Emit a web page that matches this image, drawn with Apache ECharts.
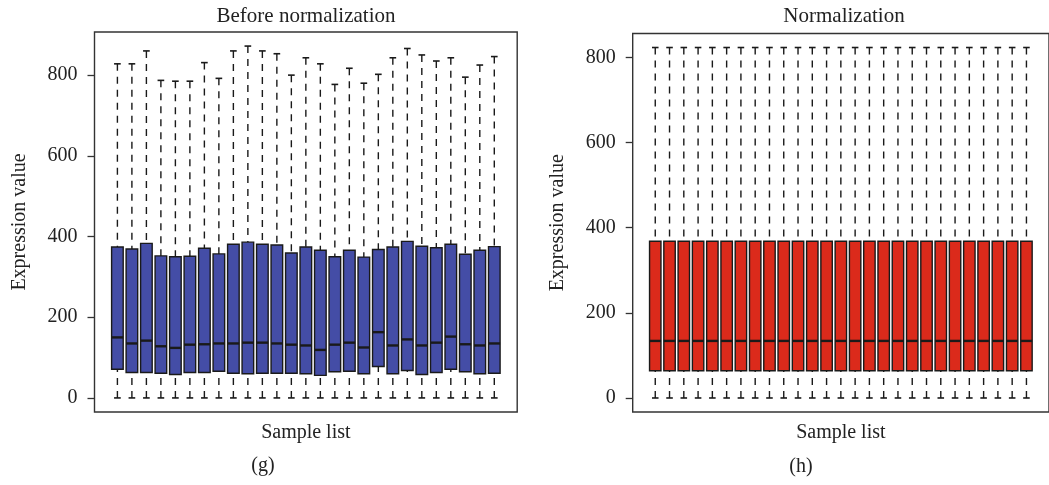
<!DOCTYPE html>
<html>
<head>
<meta charset="utf-8">
<script src="https://cdn.jsdelivr.net/npm/echarts@6/dist/echarts.min.js"></script>
<style>
html,body{margin:0;padding:0;background:#fff;}
#chart{width:1049px;height:485px;}
</style>
</head>
<body>
<div id="chart"></div>
<script>
// ---- data ----
const sampleIds = [1,2,3,4,5,6,7,8,9,10,11,12,13,14,15,16,17,18,19,20,21,22,23,24,25,26,27];
const yTicks = [0, 200, 400, 600, 800];

const beforeMax    = [828,828,860,787,785,785,831,792,860,872,860,853,800,843,828,777,817,780,802,843,866,850,835,843,795,825,846];
const beforeQ3     = [374,369,383,352,350,351,371,357,381,386,381,379,359,374,366,350,366,349,368,374,388,376,372,381,356,366,375];
const beforeMedian = [150,135,142,128,124,132,133,135,135,137,137,135,132,130,119,132,137,125,163,130,145,130,137,152,133,130,135];
const beforeQ1     = [71,63,63,61,58,63,63,66,61,60,61,61,61,60,56,65,66,60,78,60,68,58,63,71,65,60,61];
const beforeMin    = [0,0,0,0,0,0,0,0,0,0,0,0,0,0,0,0,0,0,0,0,0,0,0,0,0,0,0];

const afterMax    = [823,823,823,823,823,823,823,823,823,823,823,823,823,823,823,823,823,823,823,823,823,823,823,823,823,823,823];
const afterQ3     = [368,368,368,368,368,368,368,368,368,368,368,368,368,368,368,368,368,368,368,368,368,368,368,368,368,368,368];
const afterMedian = [134,134,134,134,134,134,134,134,134,134,134,134,134,134,134,134,134,134,134,134,134,134,134,134,134,134,134];
const afterQ1     = [64,64,64,64,64,64,64,64,64,64,64,64,64,64,64,64,64,64,64,64,64,64,64,64,64,64,64];
const afterMin    = [0,0,0,0,0,0,0,0,0,0,0,0,0,0,0,0,0,0,0,0,0,0,0,0,0,0,0];

const titles = ['Before normalization', 'Normalization'];
const panelTags = ['(g)', '(h)'];
const xName = 'Sample list';
const yName = 'Expression value';

// ---- build ----
const FONT = 'Liberation Serif';
const INK = '#1a1a1a';

function rows(mn, q1, md, q3, mx) {
  return sampleIds.map((id, i) => [id, mn[i], q1[i], md[i], q3[i], mx[i]]);
}

function makeRender(fill) {
  return function (params, api) {
    const x = api.value(0);
    const lo = api.coord([x, api.value(1)]);
    const a = api.coord([x, api.value(2)]);
    const m = api.coord([x, api.value(3)]);
    const b = api.coord([x, api.value(4)]);
    const hi = api.coord([x, api.value(5)]);
    const half = api.size([0.8, 0])[0] / 2;
    const cap = api.size([0.46, 0])[0] / 2;
    const dash = { stroke: INK, lineWidth: 1.4, lineDash: [7, 6] };
    const solid = { stroke: INK, lineWidth: 1.6 };
    return {
      type: 'group',
      children: [
        { type: 'line', shape: { x1: hi[0], y1: hi[1], x2: b[0], y2: b[1] }, style: dash },
        { type: 'line', shape: { x1: lo[0], y1: lo[1], x2: a[0], y2: a[1] }, style: dash },
        { type: 'line', shape: { x1: hi[0] - cap, y1: hi[1], x2: hi[0] + cap, y2: hi[1] }, style: solid },
        { type: 'line', shape: { x1: lo[0] - cap, y1: lo[1], x2: lo[0] + cap, y2: lo[1] }, style: solid },
        { type: 'rect', shape: { x: b[0] - half, y: b[1], width: half * 2, height: a[1] - b[1] },
          style: { fill: fill, stroke: INK, lineWidth: 1.4 } },
        { type: 'line', shape: { x1: m[0] - half, y1: m[1], x2: m[0] + half, y2: m[1] },
          style: { stroke: INK, lineWidth: 2.4 } }
      ]
    };
  };
}

function yRange(maxArr) {
  const hi = Math.max.apply(null, maxArr);
  const pad = 0.04 * hi;
  return [-pad, hi + pad];
}
const rL = yRange(beforeMax);
const rR = yRange(afterMax);
const xMin = 0.5 - 0.04 * sampleIds.length;
const xMax = sampleIds.length + 0.5 + 0.04 * sampleIds.length;

const txt = { fontFamily: FONT, fontSize: 20, color: '#222', fontWeight: 'normal' };
const titleTxt = { fontFamily: FONT, fontSize: 21, color: '#222', fontWeight: 'normal' };

function xAxisFor(idx) {
  return {
    gridIndex: idx, type: 'value', min: xMin, max: xMax,
    axisLine: { show: false, onZero: false }, axisTick: { show: false },
    axisLabel: { show: false }, splitLine: { show: false },
    name: xName, nameLocation: 'middle', nameGap: 11, nameTextStyle: txt
  };
}
function yAxisFor(idx, r) {
  return {
    gridIndex: idx, type: 'value', min: r[0], max: r[1],
    axisLine: { show: false, onZero: false },
    axisTick: { show: true, length: 7, inside: false, customValues: yTicks,
                lineStyle: { color: '#333', width: 1.3 } },
    axisLabel: { show: true, customValues: yTicks, margin: 17,
                 fontFamily: FONT, fontSize: 20, color: '#222' },
    splitLine: { show: false },
    name: yName, nameLocation: 'middle', nameGap: 65, nameTextStyle: txt
  };
}

const chart = echarts.init(document.getElementById('chart'), null, { renderer: 'canvas' });
chart.setOption({
  animation: false,
  backgroundColor: '#fff',
  title: [
    { text: titles[0], left: 306, top: 6, textAlign: 'center', padding: 0, textStyle: titleTxt },
    { text: titles[1], left: 844, top: 6, textAlign: 'center', padding: 0, textStyle: titleTxt },
    { text: panelTags[0], left: 263, top: 456, textAlign: 'center', padding: 0, textStyle: txt },
    { text: panelTags[1], left: 801, top: 457, textAlign: 'center', padding: 0, textStyle: txt }
  ],
  grid: [
    { left: 94.5, top: 32, width: 422.7, height: 380, show: true,
      borderColor: '#333', borderWidth: 1.4, backgroundColor: 'transparent', containLabel: false },
    { left: 632.7, top: 33.5, width: 423.2, height: 378.5, show: true,
      borderColor: '#333', borderWidth: 1.4, backgroundColor: 'transparent', containLabel: false }
  ],
  xAxis: [xAxisFor(0), xAxisFor(1)],
  yAxis: [yAxisFor(0, rL), yAxisFor(1, rR)],
  series: [
    { type: 'custom', xAxisIndex: 0, yAxisIndex: 0, renderItem: makeRender('#444DA6'),
      encode: { x: 0, y: [1, 2, 3, 4, 5] },
      data: rows(beforeMin, beforeQ1, beforeMedian, beforeQ3, beforeMax) },
    { type: 'custom', xAxisIndex: 1, yAxisIndex: 1, renderItem: makeRender('#DB2A1B'),
      encode: { x: 0, y: [1, 2, 3, 4, 5] },
      data: rows(afterMin, afterQ1, afterMedian, afterQ3, afterMax) }
  ]
});
</script>
</body>
</html>
